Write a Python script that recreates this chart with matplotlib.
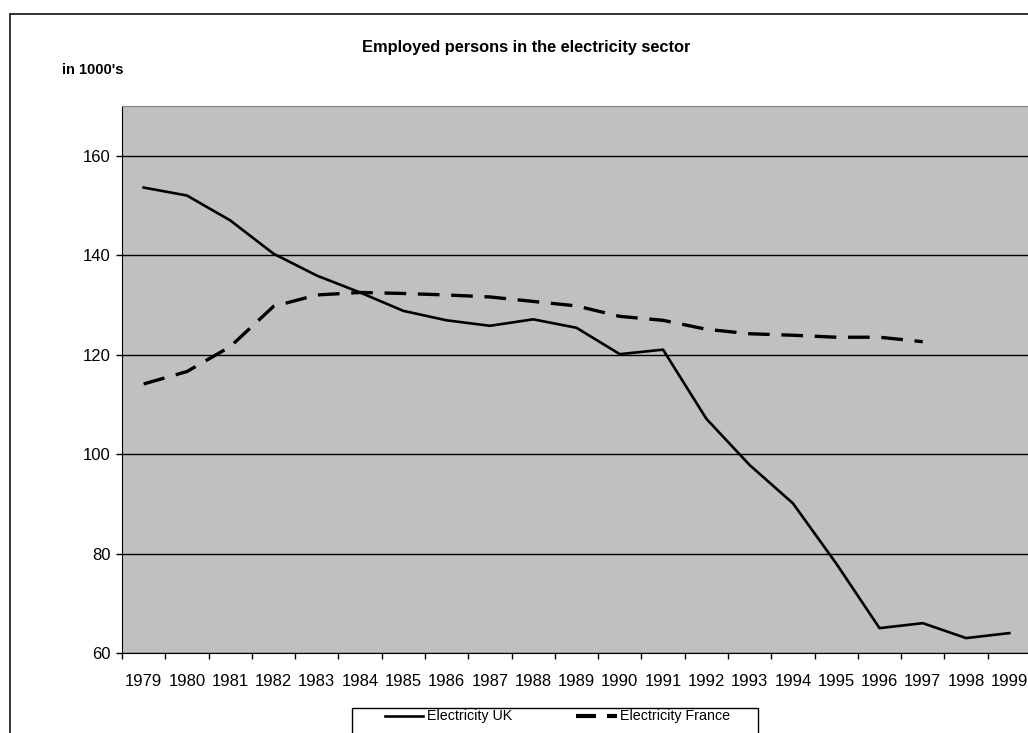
import matplotlib
matplotlib.use("Agg")
import matplotlib.pyplot as plt
from matplotlib.lines import Line2D
from matplotlib.patches import Rectangle
from matplotlib.ticker import FixedLocator, NullFormatter

plt.rcParams['font.family'] = ['Liberation Sans', 'DejaVu Sans']

# Data (in 1000's)
years = list(range(1979, 2000))
uk = [153.6, 152.0, 147.0, 140.3, 135.9, 132.5, 128.8, 126.9, 125.8, 127.1,
      125.4, 120.1, 121.0, 107.1, 97.8, 90.1, 78.0, 65.0, 66.0, 63.0, 64.0]
france = [114.1, 116.6, 121.6, 129.7, 132.0, 132.5, 132.3, 132.0, 131.6, 130.7,
          129.8, 127.7, 126.9, 125.1, 124.2, 123.9, 123.5, 123.5, 122.6]
labels = ['Electricity UK', 'Electricity France']

W, H = 1028, 733
fig = plt.figure(figsize=(W / 100, H / 100), dpi=100)


def fx(px):
    return px / W


def fy(py):
    return 1 - py / H


# axes (right side runs off the picture)
ax = fig.add_axes([fx(122), fy(653), 909 / W, 547 / H])
ax.set_facecolor('#c0c0c0')

ax.plot(range(len(uk)), uk, color='black', lw=1.9)
ax.plot(range(len(france)), france, color='black', lw=2.4, dashes=(6.5, 3.5))

ax.set_xlim(-0.5, len(years) - 0.5)
ax.set_ylim(60, 170)

ax.set_yticks(range(60, 170, 20))
ax.yaxis.grid(True, color='black', lw=1.0)
ax.set_axisbelow(True)
ax.tick_params(axis='y', direction='out', length=4.3, width=1, pad=4, labelsize=12)

# ticks between categories, labels at category centres
ax.xaxis.set_major_locator(FixedLocator([i - 0.5 for i in range(len(years) + 1)]))
ax.xaxis.set_major_formatter(NullFormatter())
ax.xaxis.set_minor_locator(FixedLocator(list(range(len(years)))))
ax.set_xticklabels([str(y) for y in years], minor=True)
ax.tick_params(axis='x', which='major', direction='out', length=4, width=1)
ax.tick_params(axis='x', which='minor', length=0, pad=15, labelsize=12)

for s in ['top', 'right']:
    ax.spines[s].set_color('#808080')
for s in ['left', 'bottom']:
    ax.spines[s].set_color('black')

# outer chart frame
fig.add_artist(Line2D([fx(10), fx(10)], [0, fy(14)], color='#333333', lw=1.4))
fig.add_artist(Line2D([fx(10), 1], [fy(14), fy(14)], color='#333333', lw=1.4))

fig.text(fx(526.5), fy(52), 'Employed persons in the electricity sector',
         ha='center', va='baseline', fontsize=11.8, fontweight='bold')
fig.text(fx(62), fy(70), "in 1000's", ha='left', va='center',
         fontsize=10.5, fontweight='bold')

# legend box (Excel style, cut off at the bottom)
fig.add_artist(Rectangle((fx(352), fy(745)), (758 - 352) / W, 37 / H,
                         transform=fig.transFigure, facecolor='white',
                         edgecolor='black', lw=1.0))
fig.add_artist(Line2D([fx(385), fx(423)], [fy(716), fy(716)], color='black', lw=1.9))
fig.add_artist(Line2D([fx(576), fx(596)], [fy(716), fy(716)], color='black', lw=3.0,
                      solid_capstyle='butt'))
fig.add_artist(Line2D([fx(607), fx(617)], [fy(716), fy(716)], color='black', lw=3.0,
                      solid_capstyle='butt'))
fig.text(fx(427), fy(716), labels[0], ha='left', va='center', fontsize=10.3)
fig.text(fx(620), fy(716), labels[1], ha='left', va='center', fontsize=10.3)

fig.savefig('out.png', dpi=100)
